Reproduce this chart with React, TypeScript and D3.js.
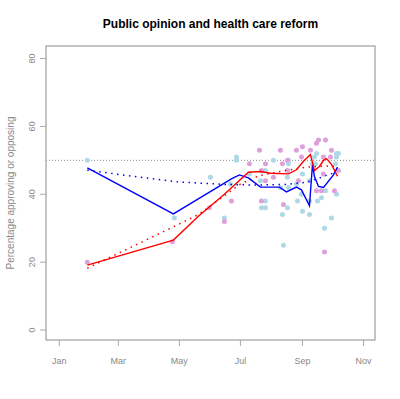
import React from "react";
import * as d3 from "d3";

const title = "Public opinion and health care reform";
const yLabel = "Percentage approving or opposing";
const xTickDates = ["2009-01-01", "2009-03-01", "2009-05-01", "2009-07-01", "2009-09-01", "2009-11-01"];
const xTickLabels = ["Jan", "Mar", "May", "Jul", "Sep", "Nov"];
const yTicks = [0, 20, 40, 60, 80];
const refLine = 50;

// Poll results: approve (light blue) and oppose (plum)
const approveDates = [
  "2009-01-29", "2009-04-26", "2009-06-01", "2009-06-15", "2009-06-21", "2009-06-27", "2009-06-27",
  "2009-07-10", "2009-07-21", "2009-07-22", "2009-07-26", "2009-07-26", "2009-07-26", "2009-08-03",
  "2009-08-10", "2009-08-12", "2009-08-13", "2009-08-17", "2009-08-18", "2009-08-18", "2009-08-18",
  "2009-08-17", "2009-08-26", "2009-08-27", "2009-08-31", "2009-09-01", "2009-09-01", "2009-09-08",
  "2009-09-08", "2009-09-08", "2009-09-11", "2009-09-13", "2009-09-15", "2009-09-14", "2009-09-16",
  "2009-09-20", "2009-09-23", "2009-09-24", "2009-09-30", "2009-10-04", "2009-10-05", "2009-10-07",
  "2009-10-05", "2009-10-05",
];
const approveValues = [
  50, 33, 45, 33, 43, 51, 50,
  46, 44, 36, 36, 38, 47, 50,
  42, 34, 25, 45, 50, 49, 42,
  36, 43, 38, 40, 46, 35, 44,
  38, 34, 49, 51, 52, 49, 38,
  39, 30, 41, 33, 49, 52, 52,
  51, 40,
];
const opposeDates = [
  "2009-01-29", "2009-04-24", "2009-05-31", "2009-06-15", "2009-06-22", "2009-07-10", "2009-07-20",
  "2009-07-22", "2009-07-22", "2009-07-26", "2009-07-26", "2009-08-03", "2009-08-10", "2009-08-12",
  "2009-08-13", "2009-08-17", "2009-08-17", "2009-08-26", "2009-08-28", "2009-08-31", "2009-09-01",
  "2009-09-09", "2009-09-15", "2009-09-17", "2009-09-15", "2009-09-20", "2009-09-22", "2009-09-22",
  "2009-09-24", "2009-09-23", "2009-09-30", "2009-09-29", "2009-10-03", "2009-10-07",
];
const opposeValues = [
  20, 26, 36, 32, 38, 49, 53,
  47, 38, 49, 44, 45, 53, 49,
  37, 50, 47, 53, 44, 51, 54,
  53, 55, 56, 41, 41, 51, 46,
  56, 23, 53, 51, 41, 47,
];

// Running averages (solid) and smooth trends (dotted)
const approveAvgDates = ["2009-01-29", "2009-04-25", "2009-06-22", "2009-06-30", "2009-07-09", "2009-07-21", "2009-08-09", "2009-08-16", "2009-08-26", "2009-08-31", "2009-09-08", "2009-09-11", "2009-09-13", "2009-09-17", "2009-09-22", "2009-10-02", "2009-10-06"];
const approveAvgValues = [47.8, 34.2, 44.5, 45.7, 44.8, 42.1, 42.1, 40.7, 42.1, 41.3, 36.6, 48.7, 45.2, 42.3, 42.0, 45.7, 48.0];
const opposeAvgDates = ["2009-01-29", "2009-04-25", "2009-05-20", "2009-06-15", "2009-07-09", "2009-07-21", "2009-07-31", "2009-08-18", "2009-08-26", "2009-09-02", "2009-09-09", "2009-09-13", "2009-09-18", "2009-09-22", "2009-09-25", "2009-09-30", "2009-10-06"];
const opposeAvgValues = [19.1, 26.5, 33.5, 40.0, 46.5, 46.7, 46.2, 46.0, 47.2, 49.7, 51.7, 47.0, 48.2, 50.0, 50.5, 48.8, 45.3];
const approveTrendDates = ["2009-01-29", "2009-03-15", "2009-05-01", "2009-06-15", "2009-07-15", "2009-08-15", "2009-09-05", "2009-09-20", "2009-10-05"];
const approveTrendValues = [47.1, 45.3, 43.6, 42.9, 42.7, 42.9, 43.5, 45.0, 46.6];
const opposeTrendDates = ["2009-01-29", "2009-04-25", "2009-05-20", "2009-06-10", "2009-07-01", "2009-07-20", "2009-08-15", "2009-09-05", "2009-09-25", "2009-10-06"];
const opposeTrendValues = [18.2, 30.4, 34.0, 38.5, 43.0, 45.5, 47.0, 48.0, 48.3, 48.2];

const parse = d3.timeParse("%Y-%m-%d");
type Pt = { d: Date; v: number };
const zip = (ds: string[], vs: number[]): Pt[] => ds.map((s, i) => ({ d: parse(s) as Date, v: vs[i] }));

export default function App() {
  const W = 400, H = 399;
  const box = { l: 46, r: 375, t: 46, b: 340 };
  const x = d3.scaleTime()
    .domain([parse("2009-01-01") as Date, parse("2009-11-01") as Date])
    .range([59.3, 363.5]);
  const y = d3.scaleLinear().domain([0, 80]).range([330, 58.5]);
  const line = d3.line<Pt>().x((p) => x(p.d)).y((p) => y(p.v));
  const grey = "#8a8a8a";
  const font = "'Liberation Sans', Arial, Helvetica, sans-serif";

  const approve = zip(approveDates, approveValues);
  const oppose = zip(opposeDates, opposeValues);

  return (
    <svg width={W} height={H} style={{ position: "absolute", left: 0, top: 0 }} fontFamily={font}>
      <rect x={0} y={0} width={W} height={H} fill="#fff" />
      <text x={(box.l + box.r) / 2} y={28} textAnchor="middle" fontWeight="bold" fontSize={12} fill="#000">
        {title}
      </text>
      {/* reference line */}
      <line x1={box.l} x2={box.r} y1={y(refLine)} y2={y(refLine)} stroke="#888" strokeWidth={1} strokeDasharray="1 2" />
      {/* points */}
      {approve.map((p, i) => (
        <circle key={"a" + i} cx={x(p.d)} cy={y(p.v)} r={2.5} fill="#ADD8E6" />
      ))}
      {oppose.map((p, i) => (
        <circle key={"o" + i} cx={x(p.d)} cy={y(p.v)} r={2.5} fill="#DDA0DD" />
      ))}
      {/* trend lines */}
      <path d={line(zip(approveTrendDates, approveTrendValues)) || ""} fill="none" stroke="#0000FF" strokeWidth={1.5} strokeDasharray="1.5 4.5" />
      <path d={line(zip(opposeTrendDates, opposeTrendValues)) || ""} fill="none" stroke="#FF0000" strokeWidth={1.5} strokeDasharray="1.5 4.5" />
      <path d={line(zip(approveAvgDates, approveAvgValues)) || ""} fill="none" stroke="#0000FF" strokeWidth={1.4} />
      <path d={line(zip(opposeAvgDates, opposeAvgValues)) || ""} fill="none" stroke="#FF0000" strokeWidth={1.4} />
      {/* box */}
      <rect x={box.l} y={box.t} width={box.r - box.l} height={box.b - box.t} fill="none" stroke={grey} strokeWidth={1} />
      {/* x axis */}
      {xTickDates.map((s, i) => {
        const xx = x(parse(s) as Date);
        return (
          <g key={s}>
            <line x1={xx} x2={xx} y1={box.b} y2={box.b + 6} stroke="#aaa" />
            <text x={xx} y={364} textAnchor="middle" fontSize={9} fill="#888">{xTickLabels[i]}</text>
          </g>
        );
      })}
      {/* y axis */}
      {yTicks.map((t) => (
        <g key={t}>
          <line x1={box.l - 6} x2={box.l} y1={y(t)} y2={y(t)} stroke="#aaa" />
          <text transform={`translate(35,${y(t)}) rotate(-90)`} textAnchor="middle" fontSize={9} fill="#888">{t}</text>
        </g>
      ))}
      <text transform={`translate(14,${(box.t + box.b) / 2}) rotate(-90)`} textAnchor="middle" fontSize={10} fill="#888">
        {yLabel}
      </text>
    </svg>
  );
}
